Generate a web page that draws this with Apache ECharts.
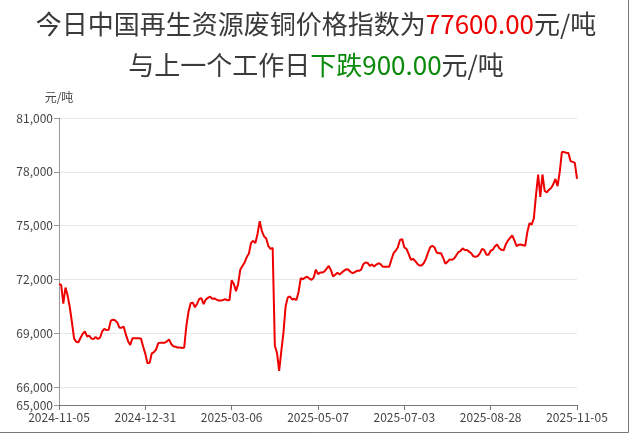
<!DOCTYPE html>
<html>
<head>
<meta charset="utf-8">
<script src="https://cdn.jsdelivr.net/npm/echarts@6/dist/echarts.min.js"></script>
<style>
html,body{margin:0;padding:0;background:#fff;}
#chart{width:632px;height:435px;}
</style>
</head>
<body>
<div id="chart"></div>
<script>
// ---- data ----
const dates = [
'2024-11-05','2024-11-06','2024-11-07','2024-11-08','2024-11-11','2024-11-12','2024-11-13','2024-11-14','2024-11-15',
'2024-11-18','2024-11-19','2024-11-20','2024-11-21','2024-11-22','2024-11-25','2024-11-26','2024-11-27','2024-11-28','2024-11-29',
'2024-12-02','2024-12-03','2024-12-04','2024-12-05','2024-12-06','2024-12-09','2024-12-10','2024-12-11','2024-12-12','2024-12-13',
'2024-12-16','2024-12-17','2024-12-18','2024-12-19','2024-12-20','2024-12-23','2024-12-24','2024-12-25','2024-12-26','2024-12-27',
'2024-12-30','2024-12-31',
'2025-01-02','2025-01-03','2025-01-06','2025-01-07','2025-01-08','2025-01-09','2025-01-10','2025-01-13','2025-01-14','2025-01-15',
'2025-01-16','2025-01-17','2025-01-20','2025-01-21','2025-01-22','2025-01-23','2025-01-24','2025-01-27',
'2025-02-05','2025-02-06','2025-02-07','2025-02-10','2025-02-11','2025-02-12','2025-02-13','2025-02-14','2025-02-17','2025-02-18',
'2025-02-19','2025-02-20','2025-02-21','2025-02-24','2025-02-25','2025-02-26','2025-02-27','2025-02-28',
'2025-03-03','2025-03-04','2025-03-05','2025-03-06',
'2025-03-07','2025-03-10','2025-03-11','2025-03-12','2025-03-13','2025-03-14','2025-03-17','2025-03-18','2025-03-19','2025-03-20',
'2025-03-21','2025-03-24','2025-03-25','2025-03-26','2025-03-27','2025-03-28','2025-03-31',
'2025-04-01','2025-04-02','2025-04-03','2025-04-07','2025-04-08','2025-04-09','2025-04-10','2025-04-11','2025-04-14','2025-04-15',
'2025-04-16','2025-04-17','2025-04-18','2025-04-21','2025-04-22','2025-04-23','2025-04-24','2025-04-25','2025-04-28','2025-04-29',
'2025-04-30','2025-05-06','2025-05-07',
'2025-05-08','2025-05-09','2025-05-12','2025-05-13','2025-05-14','2025-05-15','2025-05-16','2025-05-19','2025-05-20','2025-05-21',
'2025-05-22','2025-05-23','2025-05-26','2025-05-27','2025-05-28','2025-05-29','2025-05-30',
'2025-06-03','2025-06-04','2025-06-05','2025-06-06','2025-06-09','2025-06-10','2025-06-11','2025-06-12','2025-06-13','2025-06-16',
'2025-06-17','2025-06-18','2025-06-19','2025-06-20','2025-06-23','2025-06-24','2025-06-25','2025-06-26','2025-06-27','2025-06-30',
'2025-07-01','2025-07-02','2025-07-03',
'2025-07-04','2025-07-07','2025-07-08','2025-07-09','2025-07-10','2025-07-11','2025-07-14','2025-07-15','2025-07-16','2025-07-17',
'2025-07-18','2025-07-21','2025-07-22','2025-07-23','2025-07-24','2025-07-25','2025-07-28','2025-07-29','2025-07-30','2025-07-31',
'2025-08-01','2025-08-04','2025-08-05','2025-08-06','2025-08-07','2025-08-08','2025-08-11','2025-08-12','2025-08-13','2025-08-14',
'2025-08-15','2025-08-18','2025-08-19','2025-08-20','2025-08-21','2025-08-22','2025-08-25','2025-08-26','2025-08-27','2025-08-28',
'2025-09-01','2025-09-02','2025-09-03','2025-09-04','2025-09-05','2025-09-08','2025-09-09','2025-09-10','2025-09-11','2025-09-12',
'2025-09-15','2025-09-16','2025-09-17','2025-09-18','2025-09-19','2025-09-22','2025-09-23','2025-09-24','2025-09-25','2025-09-26',
'2025-09-29','2025-10-10','2025-10-13','2025-10-14','2025-10-15','2025-10-16','2025-10-17','2025-10-20','2025-10-21','2025-10-22',
'2025-10-23','2025-10-24','2025-10-27','2025-10-28','2025-10-29','2025-10-30','2025-10-31','2025-11-03','2025-11-04','2025-11-05'
];

const prices = [
71750,71700,70650,71550,71100,70450,69600,68700,68520,68500,
68750,68970,69100,68820,68870,68700,68680,68790,68680,68750,
69100,69250,69180,69200,69700,69750,69720,69600,69310,69310,
69360,68920,68560,68350,68720,68720,68720,68720,68700,68250,
67850,67330,67350,67880,67950,68100,68450,68470,68470,68470,
68550,68650,68400,68270,68250,68200,68200,68180,68200,69400,
70200,70670,70700,70450,70650,70920,70950,70620,70880,70970,
71040,70920,70940,70880,70820,70820,70850,70900,70840,70850,
71950,71750,71350,71750,72550,72750,72950,73250,73450,74050,
74150,74030,74550,75250,74700,74400,74280,73860,73700,73750,
68300,67900,66900,68000,69050,70500,71000,71050,70880,70920,
70850,71300,72070,72010,72100,72150,72050,71980,72100,72550,
72300,72380,72380,72450,72600,72750,72520,72170,72260,72380,
72270,72380,72480,72570,72550,72430,72350,72400,72480,72480,
72550,72850,72950,72920,72760,72840,72720,72830,72900,72850,
72710,72710,72710,72710,73100,73450,73600,73800,74200,74250,
73780,73700,73420,73100,73150,73030,72880,72780,72780,72900,
73150,73500,73800,73880,73780,73500,73460,73460,73200,72880,
72980,73120,73090,73160,73330,73520,73580,73730,73640,73640,
73550,73460,73290,73270,73300,73450,73700,73650,73380,73380,
73600,73660,73850,73950,73740,73650,73620,73950,74170,74320,
74450,74180,73850,73940,73950,73910,73870,74650,75140,75050,
75400,76700,77850,76600,77850,76950,76850,77000,77100,77300,
77600,77200,78000,79100,79100,79060,79050,78600,78550,78500,
77600
];

const yMin = 65000;
const yMax = 81000;
const latestPrice = '77600.00';
const changeText = '下跌900.00';

// ---- chart ----
const chart = echarts.init(document.getElementById('chart'));
const FONT = '"Noto Sans CJK SC", "Noto Sans", sans-serif';
const rs = (c) => ({fontSize: 26, color: c, lineHeight: 41, fontFamily: FONT, fontWeight: 'normal'});
chart.setOption({
  animation: false,
  backgroundColor: '#fff',
  title: {
    left: 'center',
    top: -1,
    text: '{a|今日中国再生资源废铜价格指数为}{r|' + latestPrice + '}{a|元/吨}\n{a|与上一个工作日}{g|' + changeText + '}{a|元/吨}',
    textStyle: {
      fontFamily: FONT,
      fontWeight: 'normal',
      rich: {a: rs('#3a3a3a'), r: rs('#ee0000'), g: rs('#0a8a0a')}
    }
  },
  grid: {left: 59, right: 55, top: 118, bottom: 30, containLabel: false},
  xAxis: {
    type: 'category',
    data: dates,
    boundaryGap: false,
    axisLine: {lineStyle: {color: '#777', width: 1}},
    axisTick: {interval: 39, length: 5, lineStyle: {color: '#777'}},
    axisLabel: {interval: 39, color: '#444', fontSize: 12, fontFamily: FONT, margin: 6},
    splitLine: {show: false}
  },
  yAxis: {
    type: 'value',
    min: yMin,
    max: yMax,
    splitNumber: 5,
    name: '元/吨',
    nameTextStyle: {color: '#444', fontSize: 12, fontFamily: FONT},
    axisLine: {show: true, lineStyle: {color: '#999'}},
    axisTick: {show: true, length: 5, lineStyle: {color: '#999'}},
    axisLabel: {color: '#444', fontSize: 12, fontFamily: FONT, margin: 6,
      formatter: v => v.toLocaleString('en-US')},
    splitLine: {lineStyle: {color: '#e8e8e8'}}
  },
  series: [{
    type: 'line',
    data: prices,
    showSymbol: false,
    lineStyle: {color: '#ee0000', width: 2},
    itemStyle: {color: '#ee0000'}
  }],
  graphic: [{
    type: 'polyline',
    shape: {points: [[0, 432.5], [628.5, 432.5], [628.5, 0]]},
    style: {stroke: '#777', lineWidth: 1, fill: null},
    silent: true
  }]
});
</script>
</body>
</html>
